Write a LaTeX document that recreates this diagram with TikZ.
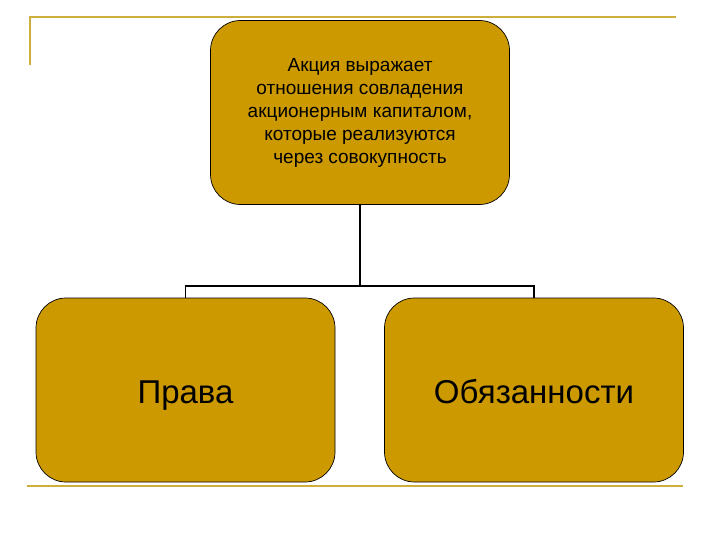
\documentclass[tikz,border=0pt]{standalone}
\usepackage{fontspec}
\setmainfont{Liberation Sans}
\usetikzlibrary{positioning}
\definecolor{gold}{RGB}{204,153,0}
\definecolor{rule}{RGB}{206,174,60}

\begin{document}
\begin{tikzpicture}[x=1pt, y=-1pt, on grid,
    box/.style={draw=black, line width=0.7pt, fill=gold, rounded corners=30pt,
      minimum width=299pt, minimum height=184pt, align=center, inner sep=0pt},
    big/.style={font=\fontsize{33pt}{38pt}\selectfont, text height=26pt, text depth=0pt},
    link/.style={line width=1.8pt, draw=black}]
    \useasboundingbox (0,0) rectangle (720,540);
    % frame lines of the slide
    \draw[rule, line width=1.3pt] (30,65) -- (30,17) -- (676,17);
    \draw[rule, line width=1.3pt] (27,486) -- (683,486);

    \node[box, font=\fontsize{19pt}{23pt}\selectfont] (akcia) at (360,112.5)
      {Акция выражает\\ отношения совладения\\ акционерным капиталом,\\ которые реализуются\\ через совокупность};
    \node[box, big] (prava) [below left=277.5pt and 174.5pt of akcia] {Права};
    \node[box, big] (obyaz) [below right=277.5pt and 174pt of akcia] {Обязанности};

    \coordinate (bus) at (akcia.south |- 0,286);
    \draw[link] (akcia.south) -- (bus);
    \draw[link] (prava.north) |- (bus) -| (obyaz.north);
\end{tikzpicture}
\end{document}
